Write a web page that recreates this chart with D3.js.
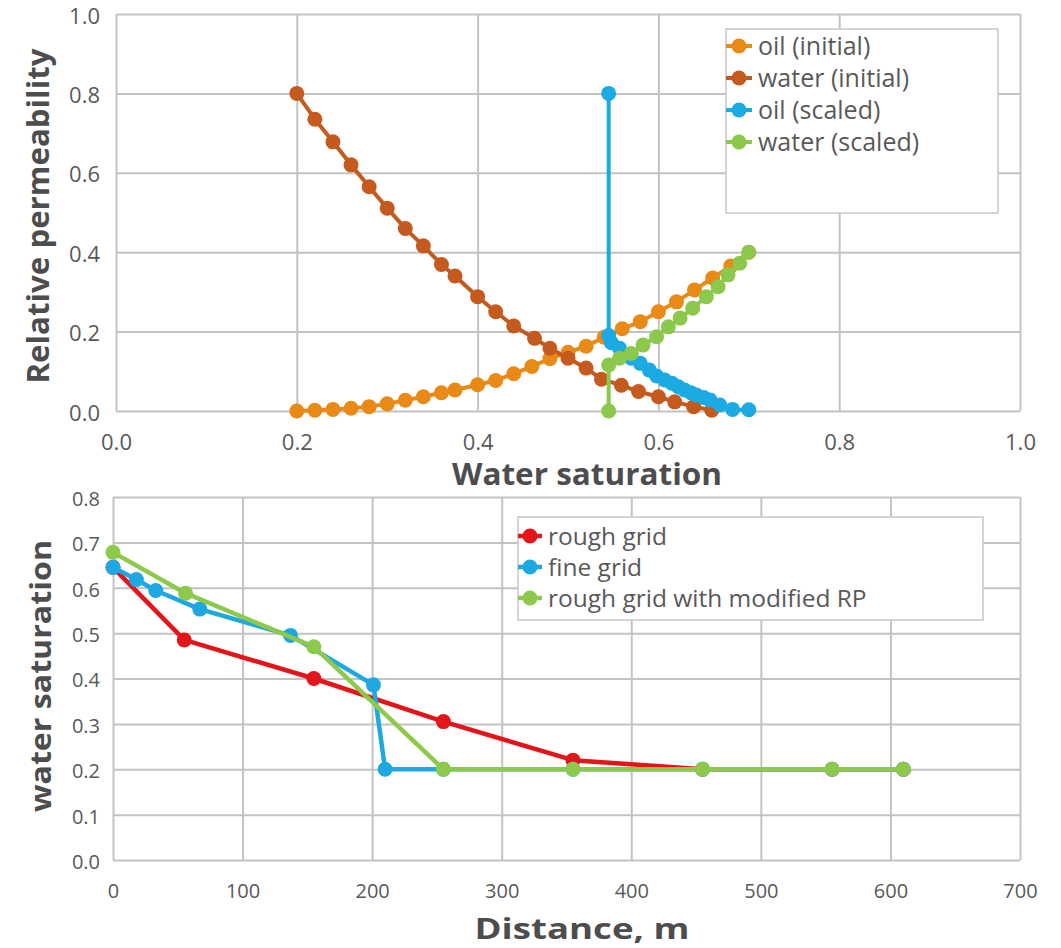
<!DOCTYPE html>
<html>
<head>
<meta charset="utf-8">
<script src="https://cdn.jsdelivr.net/npm/d3@7"></script>
<style>
  body { margin: 0; background: #fff; }
  svg { display: block; font-family: "Open Sans", sans-serif; }
</style>
</head>
<body>
<div id="chart"></div>
<script>
// top chart: relative permeability vs water saturation
const oilInitX = [0.20,0.22,0.24,0.26,0.28,0.30,0.32,0.34,0.36,0.375,0.40,0.42,0.44,0.46,0.48,0.50,0.52,0.54,0.56,0.58,0.60,0.62,0.64,0.66,0.68,0.70];
const oilInitY = [0.000,0.002,0.004,0.007,0.011,0.018,0.027,0.036,0.046,0.053,0.066,0.077,0.094,0.112,0.132,0.148,0.163,0.186,0.207,0.225,0.250,0.275,0.305,0.335,0.365,0.400];
const waterInitX = [0.20,0.22,0.24,0.26,0.28,0.30,0.32,0.34,0.36,0.375,0.40,0.42,0.44,0.463,0.48,0.50,0.52,0.537,0.559,0.578,0.60,0.618,0.639,0.659];
const waterInitY = [0.800,0.735,0.678,0.620,0.565,0.511,0.460,0.416,0.369,0.340,0.288,0.250,0.214,0.183,0.158,0.133,0.108,0.080,0.065,0.049,0.036,0.023,0.011,0.002];
const oilScaledX = [0.545,0.545,0.548,0.557,0.570,0.580,0.590,0.598,0.607,0.615,0.622,0.629,0.636,0.642,0.650,0.657,0.668,0.682,0.700];
const oilScaledY = [0.800,0.190,0.172,0.158,0.133,0.120,0.103,0.088,0.078,0.070,0.061,0.053,0.046,0.040,0.034,0.028,0.015,0.004,0.003];
const waterScaledX = [0.545,0.545,0.557,0.570,0.583,0.598,0.611,0.624,0.638,0.653,0.666,0.677,0.690,0.700];
const waterScaledY = [0.000,0.116,0.133,0.145,0.166,0.187,0.212,0.234,0.259,0.288,0.313,0.343,0.372,0.400];
const topNames = ["oil (initial)","water (initial)","oil (scaled)","water (scaled)"];
const topColors = ["#E98A17","#C55A1E","#1BAAE2","#8CC84B"];
const topTicks = [0,0.2,0.4,0.6,0.8,1.0];

// bottom chart: water saturation vs distance
const roughX = [0,55,155,255,355,455,555,610];
const roughY = [0.645,0.485,0.400,0.305,0.220,0.200,0.200,0.200];
const fineX = [0,18,33,67,137,201,210,255,355,455,555,610];
const fineY = [0.645,0.618,0.594,0.553,0.495,0.386,0.200,0.200,0.200,0.200,0.200,0.200];
const modX = [0,56,155,255,355,455,555,610];
const modY = [0.678,0.588,0.470,0.200,0.200,0.200,0.200,0.200];
const botNames = ["rough grid","fine grid","rough grid with modified RP"];
const botColors = ["#E3151B","#1DA8E2","#8DC94B"];
const botXTicks = [0,100,200,300,400,500,600,700];
const botYTicks = [0,0.1,0.2,0.3,0.4,0.5,0.6,0.7,0.8];

const width = 1061, height = 948;
const gridColor = "#c3c3c3", tickColor = "#595959", titleColor = "#4d4d4d";

const svg = d3.select("#chart").append("svg")
  .attr("width", width).attr("height", height);

function zip(xs, ys) { return xs.map((x, i) => [x, ys[i]]); }

function panel(opt) {
  const x = d3.scaleLinear().domain(opt.xDomain).range(opt.xRange);
  const y = d3.scaleLinear().domain(opt.yDomain).range(opt.yRange);
  const g = svg.append("g");

  // grid
  g.append("g")
    .attr("transform", `translate(0,${opt.yRange[0]})`)
    .call(d3.axisBottom(x).tickValues(opt.xTicks).tickSize(-(opt.yRange[0] - opt.yRange[1])).tickFormat(""))
    .call(a => a.select(".domain").remove())
    .selectAll("line").attr("stroke", gridColor).attr("stroke-width", 2);
  g.append("g")
    .attr("transform", `translate(${opt.xRange[0]},0)`)
    .call(d3.axisLeft(y).tickValues(opt.yTicks).tickSize(-(opt.xRange[1] - opt.xRange[0])).tickFormat(""))
    .call(a => a.select(".domain").remove())
    .selectAll("line").attr("stroke", gridColor).attr("stroke-width", 2);

  // tick labels
  g.append("g")
    .attr("transform", `translate(0,${opt.yRange[0]})`)
    .call(d3.axisBottom(x).tickValues(opt.xTicks).tickSize(0).tickPadding(opt.xPad).tickFormat(opt.xFmt))
    .call(a => a.attr("font-size", opt.tickSize).attr("font-family", "Open Sans"))
    .call(a => a.select(".domain").remove())
    .selectAll("text").attr("fill", tickColor);
  g.append("g")
    .attr("transform", `translate(${opt.xRange[0]},2)`)
    .call(d3.axisLeft(y).tickValues(opt.yTicks).tickSize(0).tickPadding(opt.yPad).tickFormat(d3.format(".1f")))
    .call(a => a.attr("font-size", opt.tickSize).attr("font-family", "Open Sans"))
    .call(a => a.select(".domain").remove())
    .selectAll("text").attr("fill", tickColor);

  // axis titles
  g.append("text")
    .attr("x", opt.xTitlePos[0]).attr("y", opt.xTitlePos[1])
    .attr("text-anchor", "middle").attr("font-weight", "bold")
    .attr("font-size", opt.titleSize).attr("fill", titleColor)
    .attr("textLength", opt.xTitleLen).attr("lengthAdjust", "spacingAndGlyphs")
    .text(opt.xTitle);
  g.append("text")
    .attr("transform", `translate(${opt.yTitlePos[0]},${opt.yTitlePos[1]}) rotate(-90)`)
    .attr("text-anchor", "middle").attr("font-weight", "bold")
    .attr("font-size", opt.titleSize).attr("fill", titleColor)
    .attr("textLength", opt.yTitleLen).attr("lengthAdjust", "spacingAndGlyphs")
    .text(opt.yTitle);

  // series
  const line = d3.line().x(d => x(d[0])).y(d => y(d[1]));
  opt.series.forEach((s, i) => {
    const pts = zip(s[0], s[1]);
    const sg = g.append("g");
    sg.append("path").datum(pts)
      .attr("fill", "none").attr("stroke", opt.colors[i])
      .attr("stroke-width", opt.lineWidth).attr("stroke-linejoin", "round")
      .attr("d", line);
    sg.selectAll("circle").data(pts).join("circle")
      .attr("cx", d => x(d[0])).attr("cy", d => y(d[1]))
      .attr("r", opt.r).attr("fill", opt.colors[i]);
  });

  // legend
  const lg = g.append("g").attr("transform", `translate(${opt.legend.x},${opt.legend.y})`);
  lg.append("rect")
    .attr("width", opt.legend.w).attr("height", opt.legend.h)
    .attr("fill", "#fff").attr("stroke", "#c8c8c8").attr("stroke-width", 1.5);
  opt.names.forEach((n, i) => {
    const cy = opt.legend.first + i * opt.legend.step;
    lg.append("line")
      .attr("x1", 0).attr("x2", opt.legend.sym * 2).attr("y1", cy).attr("y2", cy)
      .attr("stroke", opt.colors[i]).attr("stroke-width", opt.lineWidth);
    lg.append("circle").attr("cx", opt.legend.sym).attr("cy", cy).attr("r", opt.r).attr("fill", opt.colors[i]);
    lg.append("text")
      .attr("x", opt.legend.sym * 2 + 6).attr("y", cy).attr("dy", "0.35em")
      .attr("font-size", opt.legend.font).attr("fill", tickColor)
      .text(n);
  });
}

panel({
  xDomain: [0, 1], xRange: [116, 1020],
  yDomain: [0, 1], yRange: [411, 14],
  xTicks: topTicks, yTicks: topTicks,
  xFmt: d3.format(".1f"), xPad: 23, yPad: 16, tickSize: 22,
  xTitle: "Water saturation", xTitlePos: [587, 485], xTitleLen: 270,
  yTitle: "Relative permeability", yTitlePos: [49, 216], yTitleLen: 335,
  titleSize: 30,
  series: [[oilInitX, oilInitY], [waterInitX, waterInitY], [oilScaledX, oilScaledY], [waterScaledX, waterScaledY]],
  colors: topColors, names: topNames, lineWidth: 4, r: 7.5,
  legend: { x: 726, y: 29, w: 272, h: 184, first: 17, step: 32, sym: 13, font: 25 }
});

panel({
  xDomain: [0, 700], xRange: [113, 1020],
  yDomain: [0, 0.8], yRange: [860, 497],
  xTicks: botXTicks, yTicks: botYTicks,
  xFmt: d3.format("d"), xPad: 24, yPad: 13, tickSize: 20,
  xTitle: "Distance, m", xTitlePos: [582, 939], xTitleLen: 215,
  yTitle: "water saturation", yTitlePos: [51, 676], yTitleLen: 272,
  titleSize: 29,
  series: [[roughX, roughY], [fineX, fineY], [modX, modY]],
  colors: botColors, names: botNames, lineWidth: 4.5, r: 7.5,
  legend: { x: 518, y: 517, w: 465, h: 103, first: 19, step: 31, sym: 12, font: 24.5 }
});
</script>
</body>
</html>
